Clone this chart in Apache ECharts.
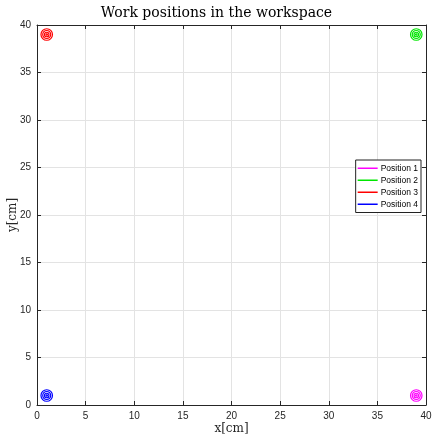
<!DOCTYPE html>
<html><head><meta charset="utf-8">
<script src="https://cdn.jsdelivr.net/npm/echarts@6/dist/echarts.min.js"></script>
<style>html,body{margin:0;padding:0;background:#fff}#c{width:433px;height:438px}</style>
</head><body><div id="c"></div>
<script>
const positionNames = ['Position 1', 'Position 2', 'Position 3', 'Position 4'];
const positionX = [39, 39, 1, 1];
const positionY = [1, 39, 39, 1];
const positionColors = ['#ff00ff', '#00e600', '#ff0000', '#0000ff'];
const ringSizes = [11.5, 8, 4.5, 1.5];
const axisMin = 0, axisMax = 40, axisStep = 5;

const chart = echarts.init(document.getElementById('c'), null, {renderer: 'canvas'});
const series = [];
positionNames.forEach((name, i) => {
  ringSizes.forEach(sz => {
    series.push({
      type: 'scatter', name, symbol: 'circle', symbolSize: sz,
      data: [[positionX[i], positionY[i]]],
      itemStyle: {color: 'rgba(0,0,0,0)', borderColor: positionColors[i], borderWidth: 1.2, opacity: 1},
      silent: true, xAxisIndex: 0, yAxisIndex: 0
    });
  });
});
const grid = {left: 37, right: 7, top: 25, bottom: 33, outerBoundsMode: 'none', containLabel: false};
const lbl = {color: '#262626', fontFamily: 'Liberation Sans', fontSize: 10};
const axisBase = {
  type: 'value', min: axisMin, max: axisMax, interval: axisStep,
  axisLine: {show: true, onZero: false, lineStyle: {color: '#262626', width: 1}},
  axisTick: {show: true, inside: true, length: 4, lineStyle: {color: '#262626'}},
};
chart.setOption({
  animation: false,
  backgroundColor: '#fff',
  title: {text: 'Work positions in the workspace', left: 'center', top: 1,
    textStyle: {fontFamily: 'DejaVu Serif', fontWeight: 'normal', fontSize: 14, color: '#000'}},
  grid,
  legend: {
    data: positionNames.map((n, i) => ({name: n, icon: 'rect', itemStyle: {color: positionColors[i], borderColor: positionColors[i], borderWidth: 0, opacity: 1}})),
    orient: 'vertical', right: 12, top: 160, itemWidth: 20, itemHeight: 1.5, itemGap: 1.5,
    backgroundColor: '#fff', borderColor: '#222', borderWidth: 1, padding: [3, 3, 3, 2],
    textStyle: {fontFamily: 'Liberation Sans', fontSize: 8.5, color: '#000', padding: [0, 0, 0, -2], lineHeight: 10.5},
    selectedMode: false
  },
  xAxis: [
    Object.assign({}, axisBase, {position: 'bottom', name: 'x[cm]', nameLocation: 'middle', nameGap: 18,
      nameMoveOverlap: false,
      nameTextStyle: {fontFamily: 'DejaVu Serif', fontSize: 12, color: '#262626'},
      axisLabel: Object.assign({margin: 6}, lbl),
      splitLine: {show: true, lineStyle: {color: '#e3e3e3', width: 1}}}),
    Object.assign({}, axisBase, {position: 'top', axisLabel: {show: false}, splitLine: {show: false}})
  ],
  yAxis: [
    Object.assign({}, axisBase, {position: 'left', name: 'y[cm]', nameLocation: 'middle', nameGap: 18,
      nameMoveOverlap: false,
      nameTextStyle: {fontFamily: 'DejaVu Serif', fontSize: 12, color: '#262626'},
      axisLabel: Object.assign({margin: 6}, lbl),
      splitLine: {show: true, lineStyle: {color: '#e3e3e3', width: 1}}}),
    Object.assign({}, axisBase, {position: 'right', axisLabel: {show: false}, splitLine: {show: false}})
  ],
  series
});
</script></body></html>
